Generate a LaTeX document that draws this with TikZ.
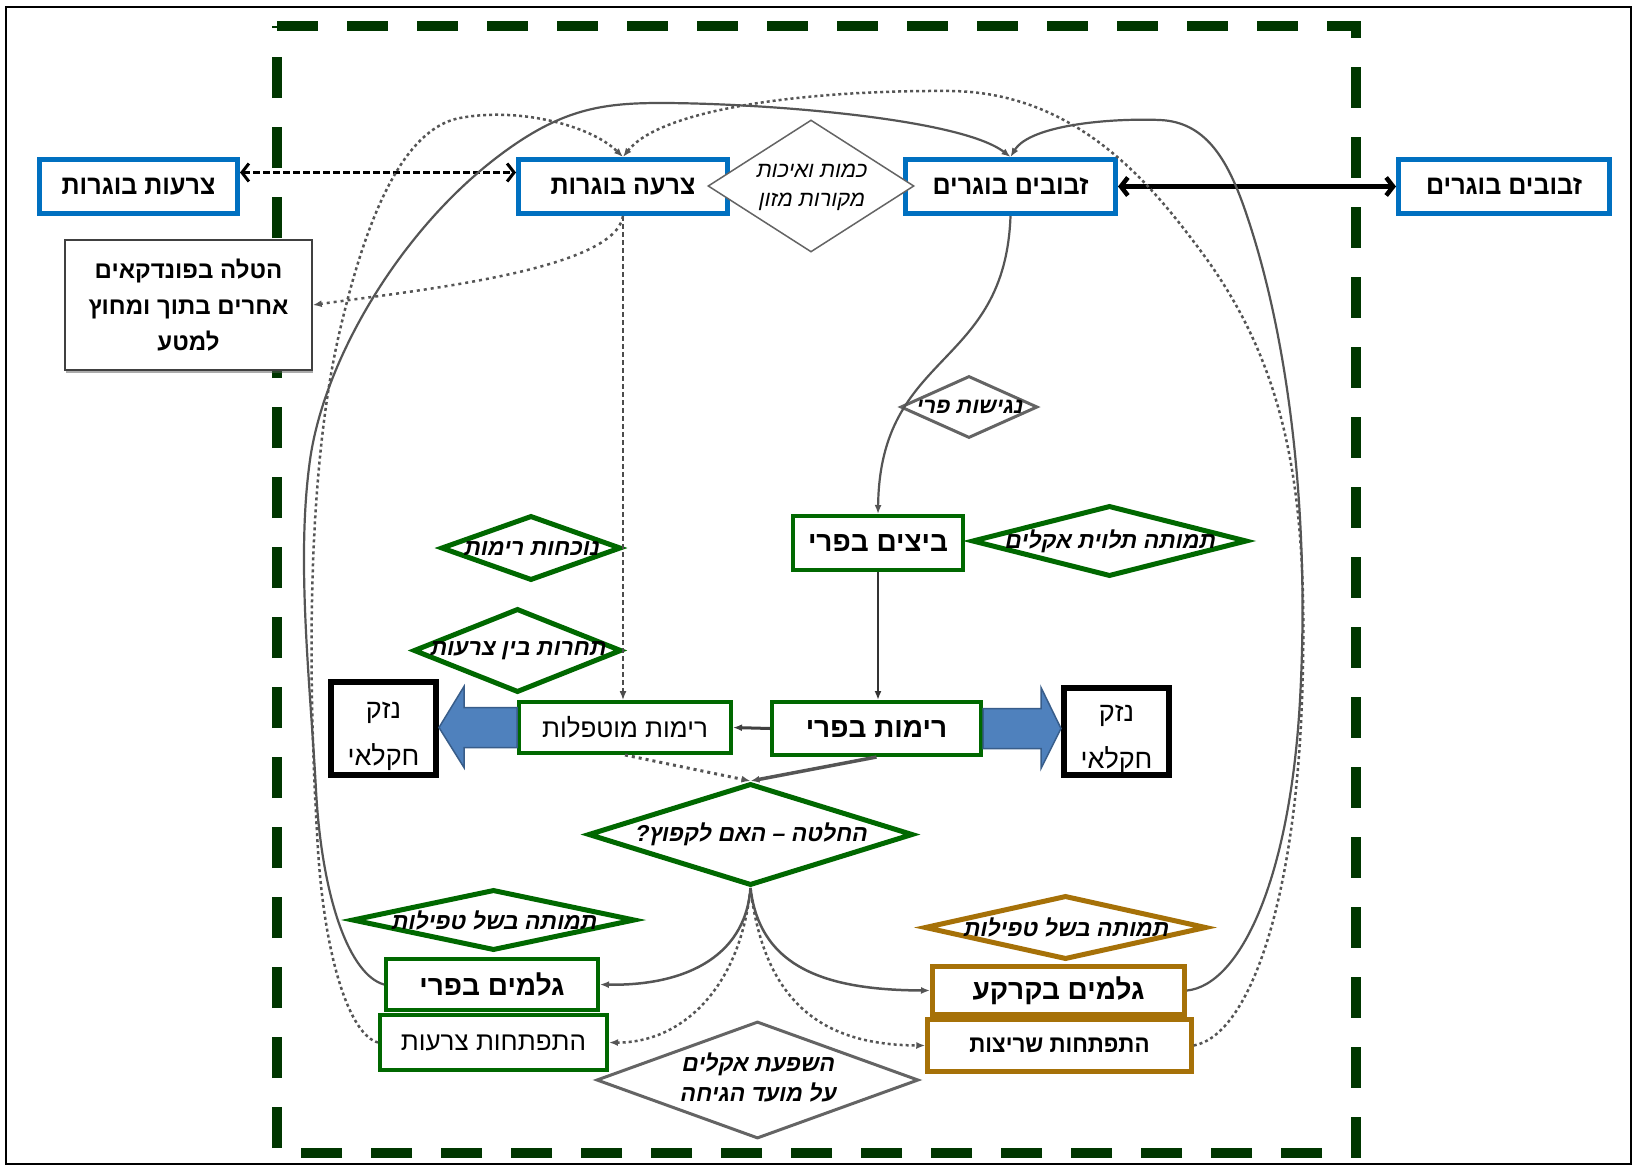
\documentclass[tikz,border=0pt]{standalone}
\usepackage{fontspec}
\usetikzlibrary{shapes.geometric,arrows.meta,calc,shadows}
\TeXXeTstate=1
\newfontfamily\hebR[Script=Hebrew]{Liberation Sans}
\newfontfamily\hebC[Script=Hebrew,FakeStretch=0.93]{Liberation Sans}
\newfontfamily\hebI[Script=Hebrew,FakeSlant=0.2]{Liberation Sans}
\newcommand\rtl[1]{\beginR #1\endR}
\definecolor{frameG}{RGB}{0,55,0}
\definecolor{boxB}{RGB}{0,112,192}
\definecolor{boxG}{RGB}{0,104,0}
\definecolor{boxO}{RGB}{166,113,8}
\definecolor{arrB}{RGB}{79,129,189}
\definecolor{arrBd}{RGB}{56,93,138}
\definecolor{lineG}{RGB}{85,85,85}
\definecolor{diaG}{RGB}{100,100,100}
\tikzset{
 box/.style={rectangle, draw, fill=white, inner sep=0pt, align=center, text=black},
 bbox/.style={box, draw=boxB, line width=5pt, minimum height=54pt, font=\hebC\bfseries\fontsize{27}{30}\selectfont},
 gbox/.style={box, draw=boxG, line width=4pt},
 obox/.style={box, draw=boxO, line width=4.5pt},
 kbox/.style={box, draw=black, line width=6pt, minimum width=105pt, font=\hebR\fontsize{27}{47}\selectfont},
 boldtxt/.style={font=\hebR\bfseries\fontsize{28}{30}\selectfont},
 regtxt/.style={font=\hebR\fontsize{26}{30}\selectfont},
 dia/.style={diamond, draw, fill=white, inner sep=0pt, text=black},
 gdia/.style={dia, draw=boxG, line width=5pt, font=\hebI\bfseries\fontsize{23}{28}\selectfont},
 odia/.style={dia, draw=boxO, line width=5pt, font=\hebI\bfseries\fontsize{23}{28}\selectfont},
 kdia/.style={dia, draw=diaG, line width=3pt, font=\hebI\bfseries\fontsize{23}{30}\selectfont},
 con/.style={draw=lineG, line width=2.2pt},
 dcon/.style={draw=lineG, line width=2.5pt, dash pattern=on 3pt off 3pt},
 tip/.style={-{Latex[length=9pt,width=7pt]}},
 barbs/.style={{Straight Barb[length=7pt,width=18pt]}-{Straight Barb[length=7pt,width=18pt]}},
 blockarrow/.style={fill=arrB, draw=arrBd, line width=1.5pt, line join=miter},
}
\begin{document}
\begin{tikzpicture}[x=1pt,y=-1pt]
\useasboundingbox (0,0) rectangle (1634,1167);
\fill[white] (0,0) rectangle (1634,1167);
\draw[line width=1.5pt] (6,7) rectangle (1631,1164);
\draw[frameG, line width=10pt, dash pattern=on 41pt off 29pt] (277,26) -- (1356,26) -- (1356,1153) -- (277,1153) -- cycle;

% top row
\node[bbox, minimum width=198pt] (wA) at (138.5,186.5) {\rtl{צרעות בוגרות}};
\node[bbox, minimum width=209pt] (wB) at (623,186.5) {\rtl{צרעה בוגרות}};
\node[bbox, minimum width=210pt] (fB) at (1010.5,186.5) {\rtl{זבובים בוגרים}};
\node[bbox, minimum width=211pt] (fA) at (1504,186.5) {\rtl{זבובים בוגרים}};
\node[dia, draw=diaG, line width=1.5pt, minimum width=206pt, minimum height=132pt, font=\hebI\fontsize{22}{29}\selectfont] (food) at (811,186)
  {\makebox[0pt]{\begin{tabular}{@{}c@{}}\rtl{כמות ואיכות}\\\rtl{מקורות מזון}\end{tabular}}};
\node[box, draw=black!75, line width=1.5pt, minimum width=247pt, minimum height=130pt,
  drop shadow={shadow xshift=1pt, shadow yshift=-3pt, fill=black!65},
  font=\hebR\bfseries\fontsize{24}{36}\selectfont] (host) at (188.5,305)
  {\rtl{הטלה בפונדקאים}\\\rtl{אחרים בתוך ומחוץ}\\\rtl{למטע}};

% middle
\node[dia, draw=diaG, line width=3pt, minimum width=137pt, minimum height=62pt, font=\hebI\bfseries\fontsize{22}{26}\selectfont] (fruit) at (969,407) {\makebox[0pt]{\rtl{נגישות פרי}}};
\node[gbox, boldtxt, minimum width=170pt, minimum height=54pt] (eggs) at (878,543) {\rtl{ביצים בפרי}};
\node[gdia, minimum width=275pt, minimum height=71pt] (clim) at (1109.5,541) {\makebox[0pt]{\rtl{תמותה תלוית אקלים}}};
\node[gdia, minimum width=180pt, minimum height=65pt] (pres) at (531,548) {\makebox[0pt]{\rtl{נוכחות רימות}}};
\node[gdia, minimum width=208pt, minimum height=84pt] (comp) at (517.5,650.5) {\makebox[0pt]{\rtl{תחרות בין צרעות}}};
\node[gbox, boldtxt, minimum width=209pt, minimum height=53pt] (larvae) at (876.5,728.5) {\rtl{רימות בפרי}};
\node[gbox, regtxt, minimum width=212pt, minimum height=51pt] (paras) at (625,727.5) {\rtl{רימות מוטפלות}};
\node[kbox, minimum height=93pt] (dmgL) at (383.5,728.5) {\rule{0pt}{33pt}\rtl{נזק}\\\rtl{חקלאי}};
\node[kbox, minimum height=87pt] (dmgR) at (1116.5,731.5) {\rule{0pt}{33pt}\rtl{נזק}\\\rtl{חקלאי}};

% lower
\node[gdia, minimum width=325pt, minimum height=102pt] (dec) at (750.5,834.5) {\makebox[0pt]{\rtl{החלטה – האם לקפוץ?}}};
\node[gdia, minimum width=283pt, minimum height=61pt] (parL) at (493.5,920) {\makebox[0pt]{\rtl{תמותה בשל טפילות}}};
\node[odia, minimum width=282pt, minimum height=64pt] (parR) at (1065.5,927.5) {\makebox[0pt]{\rtl{תמותה בשל טפילות}}};
\node[gbox, boldtxt, minimum width=212pt, minimum height=51pt] (pupaF) at (492,984.5) {\rtl{גלמים בפרי}};
\node[gbox, regtxt, minimum width=227pt, minimum height=55pt] (wdev) at (493.5,1042.5) {\rtl{התפתחות צרעות}};
\node[obox, boldtxt, line width=5pt, minimum width=252pt, minimum height=48pt] (pupaS) at (1058.5,990.5) {\rtl{גלמים בקרקע}};
\node[obox, font=\hebC\bfseries\fontsize{24}{30}\selectfont, minimum width=264pt, minimum height=52pt] (fdev) at (1059.5,1045.5) {\rtl{התפתחות שריצות}};
\node[kdia, minimum width=322pt, minimum height=117pt] (emerg) at (757.5,1080)
  {\makebox[0pt]{\begin{tabular}{@{}c@{}}\rtl{השפעת אקלים}\\\rtl{על מועד הגיחה}\end{tabular}}};

% block arrows
\filldraw[blockarrow] ($(paras.west)+(0,-20)$) -- ($(dmgL.east |- paras.west)+(25,-20)$) -- ($(dmgL.east |- paras.west)+(25,-41)$) -- (dmgL.east |- paras.west) -- ($(dmgL.east |- paras.west)+(25,40)$) -- ($(dmgL.east |- paras.west)+(25,20)$) -- ($(paras.west)+(0,20)$) -- cycle;
\filldraw[blockarrow] ($(larvae.east)+(0,-20)$) -- ($(dmgR.west |- larvae.east)+(-20,-20)$) -- ($(dmgR.west |- larvae.east)+(-20,-41)$) -- (dmgR.west |- larvae.east) -- ($(dmgR.west |- larvae.east)+(-20,40)$) -- ($(dmgR.west |- larvae.east)+(-20,20)$) -- ($(larvae.east)+(0,20)$) -- cycle;

% connectors
\draw[barbs, black, line width=3pt, dash pattern=on 7pt off 3pt] ([yshift=14pt]wA.east) -- ([yshift=14pt]wB.west);
\draw[barbs, black, line width=4.5pt] (fB.east) -- (fA.west);
\draw[tip, black!70, line width=1.5pt, dash pattern=on 5pt off 3pt] (wB.south) -- (wB.south |- paras.north);
\draw[tip, lineG, line width=2.5pt, dash pattern=on 3pt off 4pt] (wB.south) .. controls (615,270) and (420,290) .. (host.east);
\draw[tip, con] (fB.south) .. controls (1005,370) and (880,350) .. (eggs.north);
\draw[tip, black!80, line width=1.8pt] (eggs.south) -- (eggs.south |- larvae.north);
\draw[tip, black!75, line width=3pt] (larvae.west) -- (paras.east);
\draw[tip, lineG, line width=3.5pt] (larvae.south) -- (dec.north);
\draw[tip, lineG, line width=3pt, dash pattern=on 3pt off 4pt] (paras.south) -- (dec.north);
\draw[tip, con, line width=2.5pt] (dec.south) .. controls (745,960) and (680,986) .. (pupaF.east);
\draw[tip, dcon] (dec.south) .. controls (740,990) and (680,1043) .. (wdev.east);
\draw[tip, con, line width=2.5pt] (dec.south) .. controls (760,970) and (830,990) .. (pupaS.west);
\draw[tip, dcon] (dec.south) .. controls (765,1010) and (830,1045) .. (fdev.west);

% long loops
\draw[tip, con] (pupaF.west) .. controls (350,975) and (322,900) .. (316,790) .. controls (310,680) and (296,560) .. (310,460) .. controls (324,360) and (400,230) .. (500,155) .. controls (560,110) and (600,103) .. (660,103) .. controls (760,103) and (960,118) .. (fB.north);
\draw[tip, dcon] (wdev.west) .. controls (350,1035) and (325,960) .. (318,850) .. controls (312,750) and (300,500) .. (340,330) .. controls (360,245) and (395,130) .. (460,118) .. controls (518,107) and (590,125) .. (wB.north);
\draw[tip, con] (pupaS.east) .. controls (1240,985) and (1290,880) .. (1300,700) .. controls (1310,520) and (1290,340) .. (1245,210) .. controls (1227,158) and (1205,122) .. (1160,120) .. controls (1110,118) and (1030,125) .. (fB.north);
\draw[tip, dcon] (fdev.east) .. controls (1250,1035) and (1295,900) .. (1302,700) .. controls (1309,500) and (1290,370) .. (1200,250) .. controls (1155,190) and (1080,92) .. (950,91) .. controls (800,90) and (660,110) .. (wB.north);
\end{tikzpicture}
\end{document}
